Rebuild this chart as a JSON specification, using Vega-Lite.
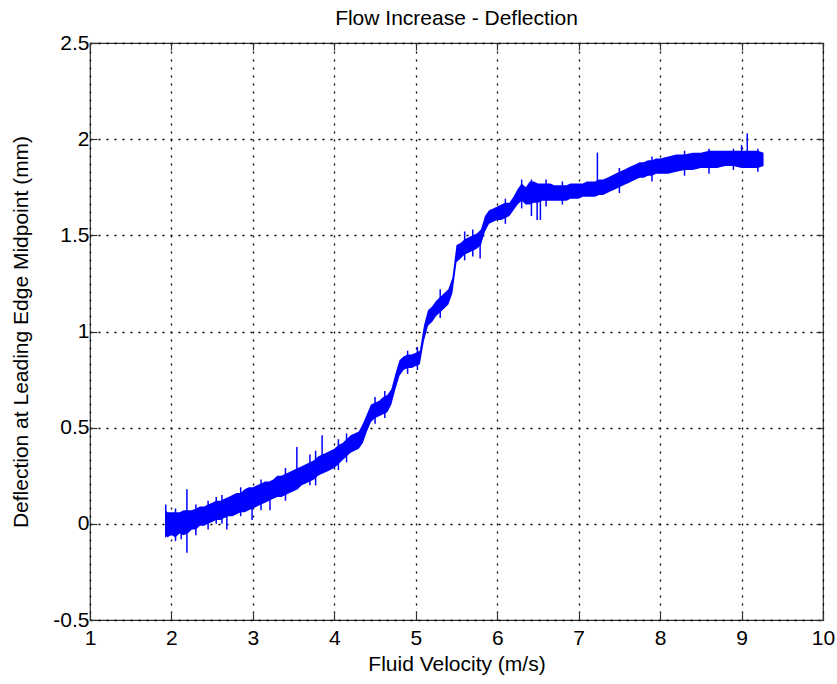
{
  "$schema": "https://vega.github.io/schema/vega-lite/v6.json",
  "width": 733,
  "height": 577,
  "autosize": "none",
  "padding": {"left": 90, "top": 43, "right": 14, "bottom": 64},
  "background": "white",
  "title": {"text": "Flow Increase - Deflection", "font": "Liberation Sans", "fontSize": 21, "fontWeight": "normal", "color": "black", "offset": 3, "anchor": "middle"},
  "config": {
    "view": {"stroke": "#333333", "strokeWidth": 1.2},
    "axis": {"labelFont": "Liberation Sans", "labelFontSize": 21, "labelColor": "black", "titleFont": "Liberation Sans", "titleFontSize": 21, "titleFontWeight": "normal", "titleColor": "black", "domain": false, "tickColor": "#333333", "tickSize": -7, "tickWidth": 1.2, "gridColor": "black", "gridDash": [2, 6], "gridWidth": 1.3, "gridOpacity": 1, "labelFlush": false}
  },
  "datasets": {
    "band": [
      {"v": 1.93, "lo": -0.06, "hi": 0.07}, {"v": 1.95, "lo": -0.07, "hi": 0.06}, {"v": 2.0, "lo": -0.06, "hi": 0.06}, {"v": 2.05, "lo": -0.07, "hi": 0.06},
      {"v": 2.1, "lo": -0.05, "hi": 0.06}, {"v": 2.15, "lo": -0.06, "hi": 0.07}, {"v": 2.2, "lo": -0.05, "hi": 0.07}, {"v": 2.25, "lo": -0.03, "hi": 0.07},
      {"v": 2.3, "lo": -0.03, "hi": 0.08}, {"v": 2.35, "lo": -0.01, "hi": 0.09}, {"v": 2.4, "lo": -0.01, "hi": 0.09}, {"v": 2.45, "lo": 0.0, "hi": 0.1},
      {"v": 2.5, "lo": 0.01, "hi": 0.11}, {"v": 2.55, "lo": 0.02, "hi": 0.12}, {"v": 2.6, "lo": 0.02, "hi": 0.12}, {"v": 2.65, "lo": 0.03, "hi": 0.13},
      {"v": 2.7, "lo": 0.04, "hi": 0.14}, {"v": 2.75, "lo": 0.04, "hi": 0.15}, {"v": 2.8, "lo": 0.05, "hi": 0.16}, {"v": 2.85, "lo": 0.06, "hi": 0.16},
      {"v": 2.9, "lo": 0.06, "hi": 0.18}, {"v": 2.95, "lo": 0.07, "hi": 0.19}, {"v": 3.0, "lo": 0.08, "hi": 0.19}, {"v": 3.05, "lo": 0.09, "hi": 0.2},
      {"v": 3.1, "lo": 0.1, "hi": 0.21}, {"v": 3.15, "lo": 0.11, "hi": 0.22}, {"v": 3.2, "lo": 0.12, "hi": 0.22}, {"v": 3.25, "lo": 0.13, "hi": 0.23},
      {"v": 3.3, "lo": 0.14, "hi": 0.25}, {"v": 3.35, "lo": 0.14, "hi": 0.25}, {"v": 3.4, "lo": 0.15, "hi": 0.26}, {"v": 3.45, "lo": 0.16, "hi": 0.27},
      {"v": 3.5, "lo": 0.17, "hi": 0.28}, {"v": 3.55, "lo": 0.18, "hi": 0.29}, {"v": 3.6, "lo": 0.2, "hi": 0.3}, {"v": 3.65, "lo": 0.21, "hi": 0.31},
      {"v": 3.7, "lo": 0.22, "hi": 0.32}, {"v": 3.75, "lo": 0.23, "hi": 0.33}, {"v": 3.8, "lo": 0.25, "hi": 0.35}, {"v": 3.85, "lo": 0.26, "hi": 0.36},
      {"v": 3.9, "lo": 0.27, "hi": 0.37}, {"v": 3.95, "lo": 0.28, "hi": 0.38}, {"v": 4.0, "lo": 0.29, "hi": 0.39}, {"v": 4.05, "lo": 0.31, "hi": 0.41},
      {"v": 4.1, "lo": 0.33, "hi": 0.42}, {"v": 4.15, "lo": 0.35, "hi": 0.44}, {"v": 4.2, "lo": 0.37, "hi": 0.46}, {"v": 4.25, "lo": 0.38, "hi": 0.47},
      {"v": 4.3, "lo": 0.39, "hi": 0.48}, {"v": 4.35, "lo": 0.42, "hi": 0.52}, {"v": 4.4, "lo": 0.48, "hi": 0.57}, {"v": 4.45, "lo": 0.53, "hi": 0.62},
      {"v": 4.5, "lo": 0.55, "hi": 0.63}, {"v": 4.55, "lo": 0.56, "hi": 0.64}, {"v": 4.6, "lo": 0.57, "hi": 0.66}, {"v": 4.65, "lo": 0.58, "hi": 0.67},
      {"v": 4.7, "lo": 0.62, "hi": 0.7}, {"v": 4.75, "lo": 0.7, "hi": 0.78}, {"v": 4.8, "lo": 0.77, "hi": 0.85}, {"v": 4.85, "lo": 0.8, "hi": 0.87},
      {"v": 4.9, "lo": 0.81, "hi": 0.88}, {"v": 4.95, "lo": 0.81, "hi": 0.88}, {"v": 5.0, "lo": 0.82, "hi": 0.89}, {"v": 5.05, "lo": 0.83, "hi": 0.9},
      {"v": 5.1, "lo": 0.95, "hi": 1.03}, {"v": 5.15, "lo": 1.03, "hi": 1.11}, {"v": 5.2, "lo": 1.05, "hi": 1.13}, {"v": 5.25, "lo": 1.08, "hi": 1.16},
      {"v": 5.3, "lo": 1.1, "hi": 1.18}, {"v": 5.35, "lo": 1.12, "hi": 1.2}, {"v": 5.4, "lo": 1.14, "hi": 1.22}, {"v": 5.45, "lo": 1.2, "hi": 1.28},
      {"v": 5.5, "lo": 1.36, "hi": 1.45}, {"v": 5.55, "lo": 1.38, "hi": 1.46}, {"v": 5.6, "lo": 1.4, "hi": 1.48}, {"v": 5.65, "lo": 1.41, "hi": 1.49},
      {"v": 5.7, "lo": 1.42, "hi": 1.5}, {"v": 5.75, "lo": 1.43, "hi": 1.51}, {"v": 5.8, "lo": 1.45, "hi": 1.53}, {"v": 5.85, "lo": 1.52, "hi": 1.6},
      {"v": 5.9, "lo": 1.56, "hi": 1.63}, {"v": 5.95, "lo": 1.57, "hi": 1.64}, {"v": 6.0, "lo": 1.58, "hi": 1.65}, {"v": 6.05, "lo": 1.58, "hi": 1.66},
      {"v": 6.1, "lo": 1.59, "hi": 1.67}, {"v": 6.15, "lo": 1.6, "hi": 1.67}, {"v": 6.2, "lo": 1.63, "hi": 1.7}, {"v": 6.25, "lo": 1.66, "hi": 1.74},
      {"v": 6.3, "lo": 1.68, "hi": 1.77}, {"v": 6.35, "lo": 1.66, "hi": 1.75}, {"v": 6.4, "lo": 1.66, "hi": 1.78}, {"v": 6.45, "lo": 1.67, "hi": 1.78},
      {"v": 6.5, "lo": 1.67, "hi": 1.77}, {"v": 6.55, "lo": 1.68, "hi": 1.77}, {"v": 6.6, "lo": 1.68, "hi": 1.77}, {"v": 6.65, "lo": 1.68, "hi": 1.77},
      {"v": 6.7, "lo": 1.68, "hi": 1.76}, {"v": 6.75, "lo": 1.68, "hi": 1.76}, {"v": 6.8, "lo": 1.68, "hi": 1.76}, {"v": 6.85, "lo": 1.68, "hi": 1.76},
      {"v": 6.9, "lo": 1.69, "hi": 1.77}, {"v": 6.95, "lo": 1.69, "hi": 1.77}, {"v": 7.0, "lo": 1.69, "hi": 1.77}, {"v": 7.05, "lo": 1.7, "hi": 1.77},
      {"v": 7.1, "lo": 1.7, "hi": 1.78}, {"v": 7.15, "lo": 1.7, "hi": 1.78}, {"v": 7.2, "lo": 1.7, "hi": 1.78}, {"v": 7.25, "lo": 1.71, "hi": 1.79},
      {"v": 7.3, "lo": 1.71, "hi": 1.79}, {"v": 7.35, "lo": 1.72, "hi": 1.8}, {"v": 7.4, "lo": 1.73, "hi": 1.81}, {"v": 7.45, "lo": 1.74, "hi": 1.82},
      {"v": 7.5, "lo": 1.75, "hi": 1.83}, {"v": 7.55, "lo": 1.76, "hi": 1.84}, {"v": 7.6, "lo": 1.77, "hi": 1.85}, {"v": 7.65, "lo": 1.78, "hi": 1.86},
      {"v": 7.7, "lo": 1.79, "hi": 1.87}, {"v": 7.75, "lo": 1.8, "hi": 1.88}, {"v": 7.8, "lo": 1.8, "hi": 1.88}, {"v": 7.85, "lo": 1.81, "hi": 1.89},
      {"v": 7.9, "lo": 1.81, "hi": 1.89}, {"v": 7.95, "lo": 1.82, "hi": 1.9}, {"v": 8.0, "lo": 1.82, "hi": 1.9}, {"v": 8.1, "lo": 1.82, "hi": 1.91},
      {"v": 8.2, "lo": 1.83, "hi": 1.92}, {"v": 8.3, "lo": 1.84, "hi": 1.92}, {"v": 8.4, "lo": 1.84, "hi": 1.93}, {"v": 8.5, "lo": 1.85, "hi": 1.93},
      {"v": 8.6, "lo": 1.85, "hi": 1.94}, {"v": 8.7, "lo": 1.85, "hi": 1.94}, {"v": 8.8, "lo": 1.86, "hi": 1.94}, {"v": 8.9, "lo": 1.86, "hi": 1.94},
      {"v": 9.0, "lo": 1.85, "hi": 1.94}, {"v": 9.1, "lo": 1.85, "hi": 1.94}, {"v": 9.2, "lo": 1.85, "hi": 1.94}, {"v": 9.27, "lo": 1.86, "hi": 1.93}
    ],
    "spikes": [
      {"v": 1.93, "a": -0.07, "b": 0.1}, {"v": 2.19, "a": -0.15, "b": 0.18}, {"v": 2.68, "a": -0.03, "b": 0.1},
      {"v": 2.99, "a": 0.02, "b": 0.15}, {"v": 3.21, "a": 0.07, "b": 0.2}, {"v": 3.54, "a": 0.2, "b": 0.4},
      {"v": 3.85, "a": 0.28, "b": 0.46}, {"v": 5.79, "a": 1.38, "b": 1.5}, {"v": 6.49, "a": 1.58, "b": 1.72},
      {"v": 6.53, "a": 1.58, "b": 1.72}, {"v": 7.23, "a": 1.72, "b": 1.93}, {"v": 9.0, "a": 1.88, "b": 1.97},
      {"v": 9.07, "a": 1.88, "b": 2.03},
      {"v": 2.05, "a": -0.09, "b": 0.08}, {"v": 2.12, "a": -0.08, "b": 0.06}, {"v": 2.3, "a": -0.06, "b": 0.1},
      {"v": 2.45, "a": -0.03, "b": 0.12}, {"v": 2.55, "a": 0.0, "b": 0.14}, {"v": 2.62, "a": 0.0, "b": 0.15},
      {"v": 2.85, "a": 0.04, "b": 0.19}, {"v": 3.1, "a": 0.07, "b": 0.23}, {"v": 3.4, "a": 0.12, "b": 0.29},
      {"v": 3.7, "a": 0.2, "b": 0.36}, {"v": 3.77, "a": 0.2, "b": 0.38}, {"v": 4.05, "a": 0.28, "b": 0.44},
      {"v": 4.15, "a": 0.32, "b": 0.47}, {"v": 4.5, "a": 0.52, "b": 0.66}, {"v": 4.62, "a": 0.55, "b": 0.69},
      {"v": 4.9, "a": 0.78, "b": 0.9}, {"v": 5.02, "a": 0.8, "b": 0.92}, {"v": 5.3, "a": 1.07, "b": 1.22},
      {"v": 5.6, "a": 1.37, "b": 1.52}, {"v": 5.7, "a": 1.39, "b": 1.53}, {"v": 6.1, "a": 1.56, "b": 1.69},
      {"v": 6.3, "a": 1.64, "b": 1.79}, {"v": 6.42, "a": 1.6, "b": 1.79}, {"v": 6.6, "a": 1.65, "b": 1.79},
      {"v": 6.8, "a": 1.66, "b": 1.78}, {"v": 7.5, "a": 1.72, "b": 1.85}, {"v": 7.9, "a": 1.78, "b": 1.91},
      {"v": 8.3, "a": 1.81, "b": 1.94}, {"v": 8.6, "a": 1.82, "b": 1.95}, {"v": 8.9, "a": 1.84, "b": 1.95},
      {"v": 9.2, "a": 1.83, "b": 1.95}
    ]
  },
  "layer": [
    {
      "data": {"name": "band"},
      "mark": {"type": "area", "color": "#0000FF", "opacity": 1},
      "encoding": {
        "x": {"field": "v", "type": "quantitative", "scale": {"domain": [1, 10], "nice": false, "zero": false}, "axis": {"values": [1, 2, 3, 4, 5, 6, 7, 8, 9, 10], "title": "Fluid Velocity (m/s)", "labelExpr": "datum.value + ''", "labelPadding": 14, "titlePadding": 5}},
        "y": {"field": "lo", "type": "quantitative", "scale": {"domain": [-0.5, 2.5], "nice": false, "zero": false}, "axis": {"values": [-0.5, 0, 0.5, 1, 1.5, 2, 2.5], "title": "Deflection at Leading Edge Midpoint (mm)", "labelExpr": "datum.value + ''", "labelPadding": 8, "titlePadding": 21}},
        "y2": {"field": "hi"}
      }
    },
    {
      "data": {"name": "spikes"},
      "mark": {"type": "rule", "color": "#0000FF", "strokeWidth": 1.5},
      "encoding": {
        "x": {"field": "v", "type": "quantitative", "axis": {"orient": "top", "values": [1, 2, 3, 4, 5, 6, 7, 8, 9, 10], "labels": false, "grid": false, "title": null}},
        "y": {"field": "a", "type": "quantitative", "axis": {"orient": "right", "values": [-0.5, 0, 0.5, 1, 1.5, 2, 2.5], "labels": false, "grid": false, "title": null}},
        "y2": {"field": "b"}
      }
    }
  ],
  "resolve": {"axis": {"x": "independent", "y": "independent"}}
}
